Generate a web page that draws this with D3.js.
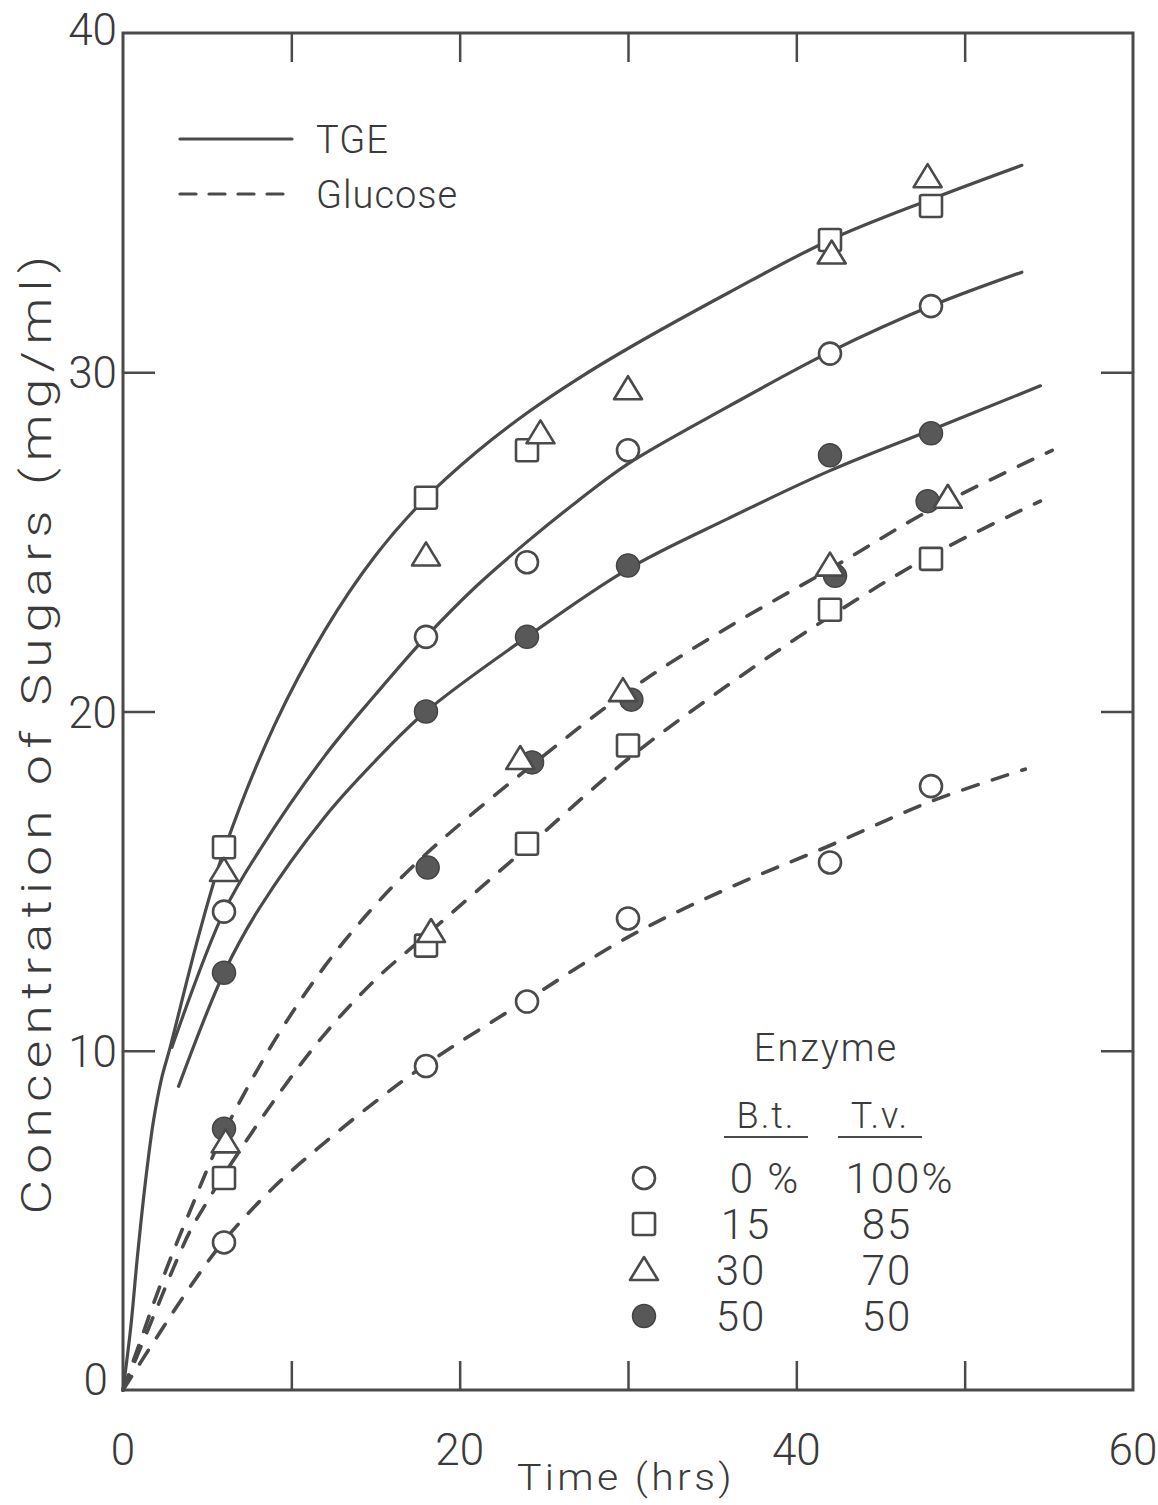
<!DOCTYPE html>
<html>
<head>
<meta charset="utf-8">
<script src="https://cdn.jsdelivr.net/npm/d3@7"></script>
<style>
  html, body { margin: 0; padding: 0; background: #fff; }
  svg text { font-family: Roboto, "DejaVu Sans", sans-serif; font-weight: 300; fill: #3a3a3a; }
</style>
</head>
<body>
<svg id="chart" width="1158" height="1505"></svg>
<script>
// ---------- DATA ----------
const xTickLabels = [0, 20, 40, 60];
const xMinorTicks = [10, 20, 30, 40, 50];
const yTickLabels = [0, 10, 20, 30, 40];
const yMinorTicks = [10, 20, 30];

// TGE curves (solid)
const tgeSquareTriCurve = [[0,0],[0.45,1.8],[0.85,3.9],[1.3,6.0],[1.8,7.9],[2.3,9.2],[2.8,10.1],[4.5,13.4],[6,15.9],[9,19.6],[12,22.4],[15,24.6],[18,26.3],[21,27.65],[24,28.8],[27,29.8],[30,30.7],[36,32.35],[42,33.9],[48,35.1],[53.4,36.1]];
const tgeCircleCurve = [[2.9,10.1],[6,14.1],[8.1,15.9],[12,18.7],[15,20.5],[18,22.2],[21,23.7],[24,25.0],[27,26.2],[30,27.3],[36,29.0],[42,30.6],[48,31.95],[53.4,32.95]];
const tgeFilledCurve = [[3.3,8.95],[6,12.3],[8.1,14.2],[12,16.9],[15,18.55],[18,20.0],[24,22.2],[30,24.2],[36,25.7],[42,27.1],[48,28.3],[54.5,29.6]];

// Glucose curves (dashed)
const gluFilledTriCurve = [[0,0],[1,1.4],[2,2.8],[3,4.1],[4,5.3],[5,6.5],[6,7.6],[9,10.3],[12,12.5],[15,14.3],[18,15.8],[24,18.3],[30,20.6],[36,22.5],[42,24.2],[48,25.95],[55.2,27.7]];
const gluSquareCurve = [[0,0],[1,1.2],[2,2.4],[3,3.6],[4,4.7],[5,5.55],[6,6.35],[9,8.55],[12,10.5],[15,12.1],[18,13.4],[24,16.0],[30,18.6],[36,20.8],[42,22.8],[48,24.6],[54.5,26.2]];
const gluCircleCurve = [[0,0],[2,1.55],[4,3.05],[6,4.4],[9,6.0],[12,7.3],[15,8.5],[18,9.6],[24,11.5],[30,13.35],[36,14.8],[42,16.05],[48,17.35],[53.6,18.3]];

// Data points: TGE
const tgeCircle   = [[6,14.1],[18,22.2],[24,24.4],[30,27.7],[42,30.55],[48,31.95]];
const tgeSquare   = [[6,16.0],[18,26.3],[24,27.7],[42,33.9],[48,34.9]];
const tgeTriangle = [[6,15.3],[18,24.6],[24.8,28.2],[30,29.5],[42.1,33.5],[47.8,35.75]];
const tgeFilled   = [[6,12.3],[18,20.0],[24,22.2],[30,24.3],[42,27.55],[48,28.2]];
// Data points: Glucose
const gluCircle   = [[6,4.35],[18,9.55],[24,11.45],[30,13.9],[42,15.55],[48,17.8]];
const gluSquare   = [[6,6.25],[18,13.1],[24,16.1],[30,19.0],[42,23.0],[48,24.5]];
const gluTriangle = [[6.1,7.3],[18.3,13.5],[23.6,18.6],[29.7,20.6],[42,24.3],[49,26.3]];
const gluFilled   = [[6,7.7],[18.1,15.4],[24.3,18.5],[30.2,20.35],[42.3,24.0],[47.8,26.2]];

// Legends
const lineLegend = [{label: "TGE", dash: false}, {label: "Glucose", dash: true}];
const enzymeHeader = ["B.t.", "T.v."];
const enzymeRows = [
  {symbol: "circle", bt: "0 %", tv: "100%"},
  {symbol: "square", bt: "15", tv: "85"},
  {symbol: "triangle", bt: "30", tv: "70"},
  {symbol: "filled", bt: "50", tv: "50"}
];
const xTitle = "Time (hrs)";
const yTitle = "Concentration of Sugars (mg/ml)";

// ---------- CHART ----------
const svg = d3.select("#chart");
const L = 123, R = 1133, T = 33, B = 1390;
const x = d3.scaleLinear().domain([0, 60]).range([L, R]);
const y = d3.scaleLinear().domain([0, 40]).range([B, T]);
const ink = "#4a4a4a";

// frame
svg.append("rect").attr("x", L).attr("y", T).attr("width", R - L).attr("height", B - T)
  .attr("fill", "none").attr("stroke", ink).attr("stroke-width", 3);

// inward ticks via axes
const tickLen = 29;
svg.append("g").attr("transform", `translate(0,${B})`)
  .call(d3.axisBottom(x).tickValues(xMinorTicks).tickSize(-tickLen).tickSizeOuter(0).tickFormat(""))
  .call(g => g.select(".domain").remove());
svg.append("g").attr("transform", `translate(0,${T})`)
  .call(d3.axisTop(x).tickValues(xMinorTicks).tickSize(-tickLen).tickSizeOuter(0).tickFormat(""))
  .call(g => g.select(".domain").remove());
svg.append("g").attr("transform", `translate(${L},0)`)
  .call(d3.axisLeft(y).tickValues(yMinorTicks).tickSize(-32).tickSizeOuter(0).tickFormat(""))
  .call(g => g.select(".domain").remove());
svg.append("g").attr("transform", `translate(${R},0)`)
  .call(d3.axisRight(y).tickValues(yMinorTicks).tickSize(-32).tickSizeOuter(0).tickFormat(""))
  .call(g => g.select(".domain").remove());
svg.selectAll(".tick line").attr("stroke", ink).attr("stroke-width", 2.5);

// tick labels
svg.append("g").selectAll("text").data(xTickLabels).join("text")
  .attr("x", d => x(d)).attr("y", 1465)
  .attr("text-anchor", "middle").attr("font-size", 44)
  .text(d => d);
svg.append("g").selectAll("text").data(yTickLabels).join("text")
  .attr("x", d => d === 0 ? 108 : 117).attr("y", d => d === 0 ? y(d) + 5 : (d === 40 ? y(d) + 12 : y(d) + 16))
  .attr("text-anchor", "end").attr("font-size", 44)
  .text(d => d);

// axis titles
svg.append("text").attr("x", 626).attr("y", 1490).attr("text-anchor", "middle")
  .attr("font-size", 37).attr("letter-spacing", 3)
  .attr("textLength", 218).attr("lengthAdjust", "spacingAndGlyphs").text(xTitle);
svg.append("text").attr("transform", "translate(51,732) rotate(-90)").attr("text-anchor", "middle")
  .attr("font-size", 42).attr("letter-spacing", 5)
  .attr("textLength", 965).attr("lengthAdjust", "spacingAndGlyphs").text(yTitle);

// curves
const lineGen = d3.line().x(d => x(d[0])).y(d => y(d[1])).curve(d3.curveCatmullRom.alpha(0.5));
const solidCurves = [tgeSquareTriCurve, tgeCircleCurve, tgeFilledCurve];
const dashedCurves = [gluFilledTriCurve, gluSquareCurve, gluCircleCurve];
svg.append("g").selectAll("path").data(solidCurves).join("path")
  .attr("d", lineGen).attr("fill", "none").attr("stroke", ink).attr("stroke-width", 3.2)
  .attr("stroke-linecap", "round");
svg.append("g").selectAll("path").data(dashedCurves).join("path")
  .attr("d", lineGen).attr("fill", "none").attr("stroke", ink).attr("stroke-width", 3.6)
  .attr("stroke-dasharray", "16,15").attr("stroke-linecap", "round");

// markers
function drawSymbol(g, type, cx, cy) {
  if (type === "circle") {
    g.append("circle").attr("cx", cx).attr("cy", cy).attr("r", 11)
      .attr("fill", "#fff").attr("stroke", ink).attr("stroke-width", 2.6);
  } else if (type === "filled") {
    g.append("circle").attr("cx", cx).attr("cy", cy).attr("r", 11.5)
      .attr("fill", "#585858").attr("stroke", "#444").attr("stroke-width", 1.5);
  } else if (type === "square") {
    g.append("rect").attr("x", cx - 11).attr("y", cy - 11).attr("width", 22).attr("height", 22)
      .attr("rx", 2).attr("fill", "#fff").attr("stroke", ink).attr("stroke-width", 2.6);
  } else if (type === "triangle") {
    g.append("path").attr("d", `M${cx},${cy - 13} L${cx + 14},${cy + 10} L${cx - 14},${cy + 10} Z`)
      .attr("fill", "#fff").attr("stroke", ink).attr("stroke-width", 2.6).attr("stroke-linejoin", "round");
  }
}
const markerSets = [
  {data: gluCircle, type: "circle"}, {data: gluSquare, type: "square"},
  {data: gluFilled, type: "filled"}, {data: gluTriangle, type: "triangle"},
  {data: tgeCircle, type: "circle"}, {data: tgeFilled, type: "filled"},
  {data: tgeSquare, type: "square"}, {data: tgeTriangle, type: "triangle"}
];
const mg = svg.append("g");
markerSets.forEach(s => s.data.forEach(d => drawSymbol(mg, s.type, x(d[0]), y(d[1]))));

// line legend (top-left)
const lg = svg.append("g");
lineLegend.forEach((d, i) => {
  const yy = 139 + i * 55;
  lg.append("line").attr("x1", 180).attr("x2", 292).attr("y1", yy).attr("y2", yy)
    .attr("stroke", ink).attr("stroke-width", 3.2).attr("stroke-linecap", "round")
    .attr("stroke-dasharray", d.dash ? "16,13" : null);
  lg.append("text").attr("x", 316).attr("y", yy + 14).attr("font-size", 38)
    .attr("letter-spacing", 1).text(d.label);
});

// enzyme legend (bottom-right)
const eg = svg.append("g");
eg.append("text").attr("x", 826).attr("y", 1061).attr("text-anchor", "middle").attr("font-size", 38)
  .attr("letter-spacing", 2).text("Enzyme");
const headX = [766, 880];
enzymeHeader.forEach((h, i) => {
  eg.append("text").attr("x", headX[i]).attr("y", 1128).attr("text-anchor", "middle").attr("font-size", 36)
    .attr("letter-spacing", 2).text(h);
  eg.append("line").attr("x1", headX[i] - 42).attr("x2", headX[i] + 42).attr("y1", 1137).attr("y2", 1137)
    .attr("stroke", ink).attr("stroke-width", 2.2);
});
const btX = [765, 746, 741, 741];
const tvX = [900, 887, 887, 887];
enzymeRows.forEach((r, i) => {
  const yy = 1178 + i * 46;
  drawSymbol(eg, r.symbol, 644, yy);
  eg.append("text").attr("x", btX[i]).attr("y", yy + 15).attr("text-anchor", "middle").attr("font-size", 42)
    .attr("letter-spacing", 2).text(r.bt);
  eg.append("text").attr("x", tvX[i]).attr("y", yy + 15).attr("text-anchor", "middle").attr("font-size", 42)
    .attr("letter-spacing", 2).text(r.tv);
});
</script>
</body>
</html>
